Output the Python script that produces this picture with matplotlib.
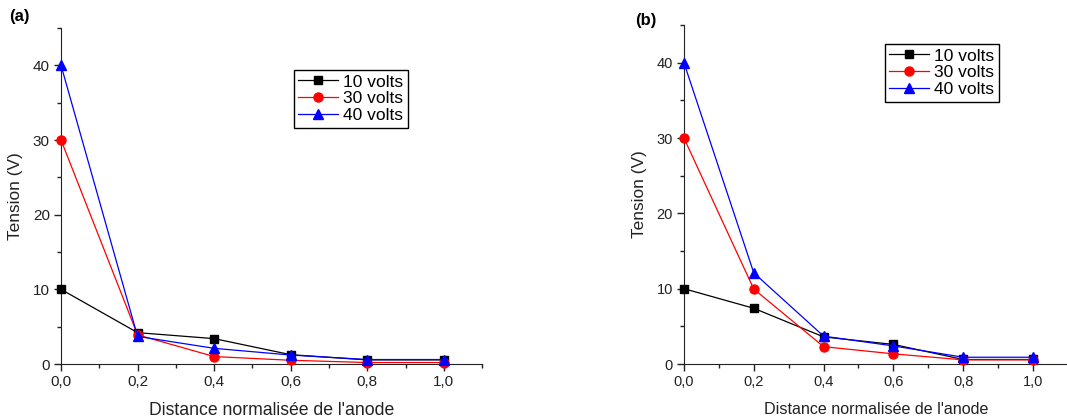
import numpy as np
import matplotlib
matplotlib.use('Agg')
import matplotlib.pyplot as plt
from matplotlib.ticker import MultipleLocator, FuncFormatter

plt.rcParams['font.family'] = ['Liberation Sans', 'DejaVu Sans']

distance = [0.0, 0.2, 0.4, 0.6, 0.8, 1.0]
series_labels = ['10 volts', '30 volts', '40 volts']

# panel (a)
a_10v = [10.0, 4.2, 3.4, 1.25, 0.55, 0.55]
a_30v = [30.0, 3.9, 1.0, 0.5, 0.2, 0.2]
a_40v = [40.0, 3.7, 2.1, 1.2, 0.6, 0.6]

# panel (b)
b_10v = [10.0, 7.4, 3.6, 2.6, 0.6, 0.6]
b_30v = [30.0, 9.95, 2.3, 1.35, 0.55, 0.55]
b_40v = [40.0, 12.1, 3.7, 2.4, 0.9, 0.9]

styles = [('black', 's', 5.5), ('red', 'o', 6.5), ('blue', '^', 7)]

fig = plt.figure(figsize=(10.67, 4.2), dpi=100)


def comma(v, pos):
    return ('%.1f' % v).replace('.', ',')


def draw_panel(ax, data, tick_fs, label_fs, leg_anchor):
    for vals, lab, (c, m, ms) in zip(data, series_labels, styles):
        ax.plot(distance, vals, color=c, marker=m, markersize=ms,
                linewidth=0.9, label=lab, clip_on=False, zorder=3)
    ax.set_xlim(0, 1.1)
    ax.set_ylim(0, 45)
    ax.spines['top'].set_visible(False)
    ax.spines['right'].set_visible(False)
    for s in ('left', 'bottom'):
        ax.spines[s].set_color('#222222')
    ax.xaxis.set_minor_locator(MultipleLocator(0.1))
    ax.yaxis.set_major_locator(MultipleLocator(10))
    ax.yaxis.set_minor_locator(MultipleLocator(5))
    ax.set_xticks([0.0, 0.2, 0.4, 0.6, 0.8, 1.0])
    ax.xaxis.set_major_formatter(FuncFormatter(comma))
    ax.tick_params(which='major', direction='out', length=5, width=1,
                   labelsize=tick_fs, colors='#222222', pad=3)
    ax.tick_params(which='minor', direction='out', length=3, width=1,
                   colors='#222222')
    ax.set_xlabel("Distance normalisée de l'anode", fontsize=label_fs,
                  labelpad=9, color='#222222')
    ax.set_ylabel('Tension (V)', fontsize=12.4, labelpad=7, color='#222222')
    leg = ax.legend(loc='upper left', bbox_to_anchor=leg_anchor,
                    borderaxespad=0, fontsize=12.5, handlelength=2.3,
                    handletextpad=0.3, labelspacing=0.1, borderpad=0.25,
                    fancybox=False, framealpha=1, edgecolor='black')
    leg.get_frame().set_linewidth(1.0)
    return ax


ax_a = fig.add_axes([0.0572, 0.1333, 0.3946, 0.8])
draw_panel(ax_a, [a_10v, a_30v, a_40v], 11, 12.7, (0.553, 0.875))
fig.text(0.009, 0.96, '(a)', fontsize=12, fontweight='bold', va='center')

ax_b = fig.add_axes([0.641, 0.1333, 0.3599, 0.807])
draw_panel(ax_b, [b_10v, b_30v, b_40v], 10.5, 11.6, (0.523, 0.944))
fig.text(0.595, 0.952, '(b)', fontsize=12, fontweight='bold', va='center')

fig.savefig('out.png', dpi=100)
